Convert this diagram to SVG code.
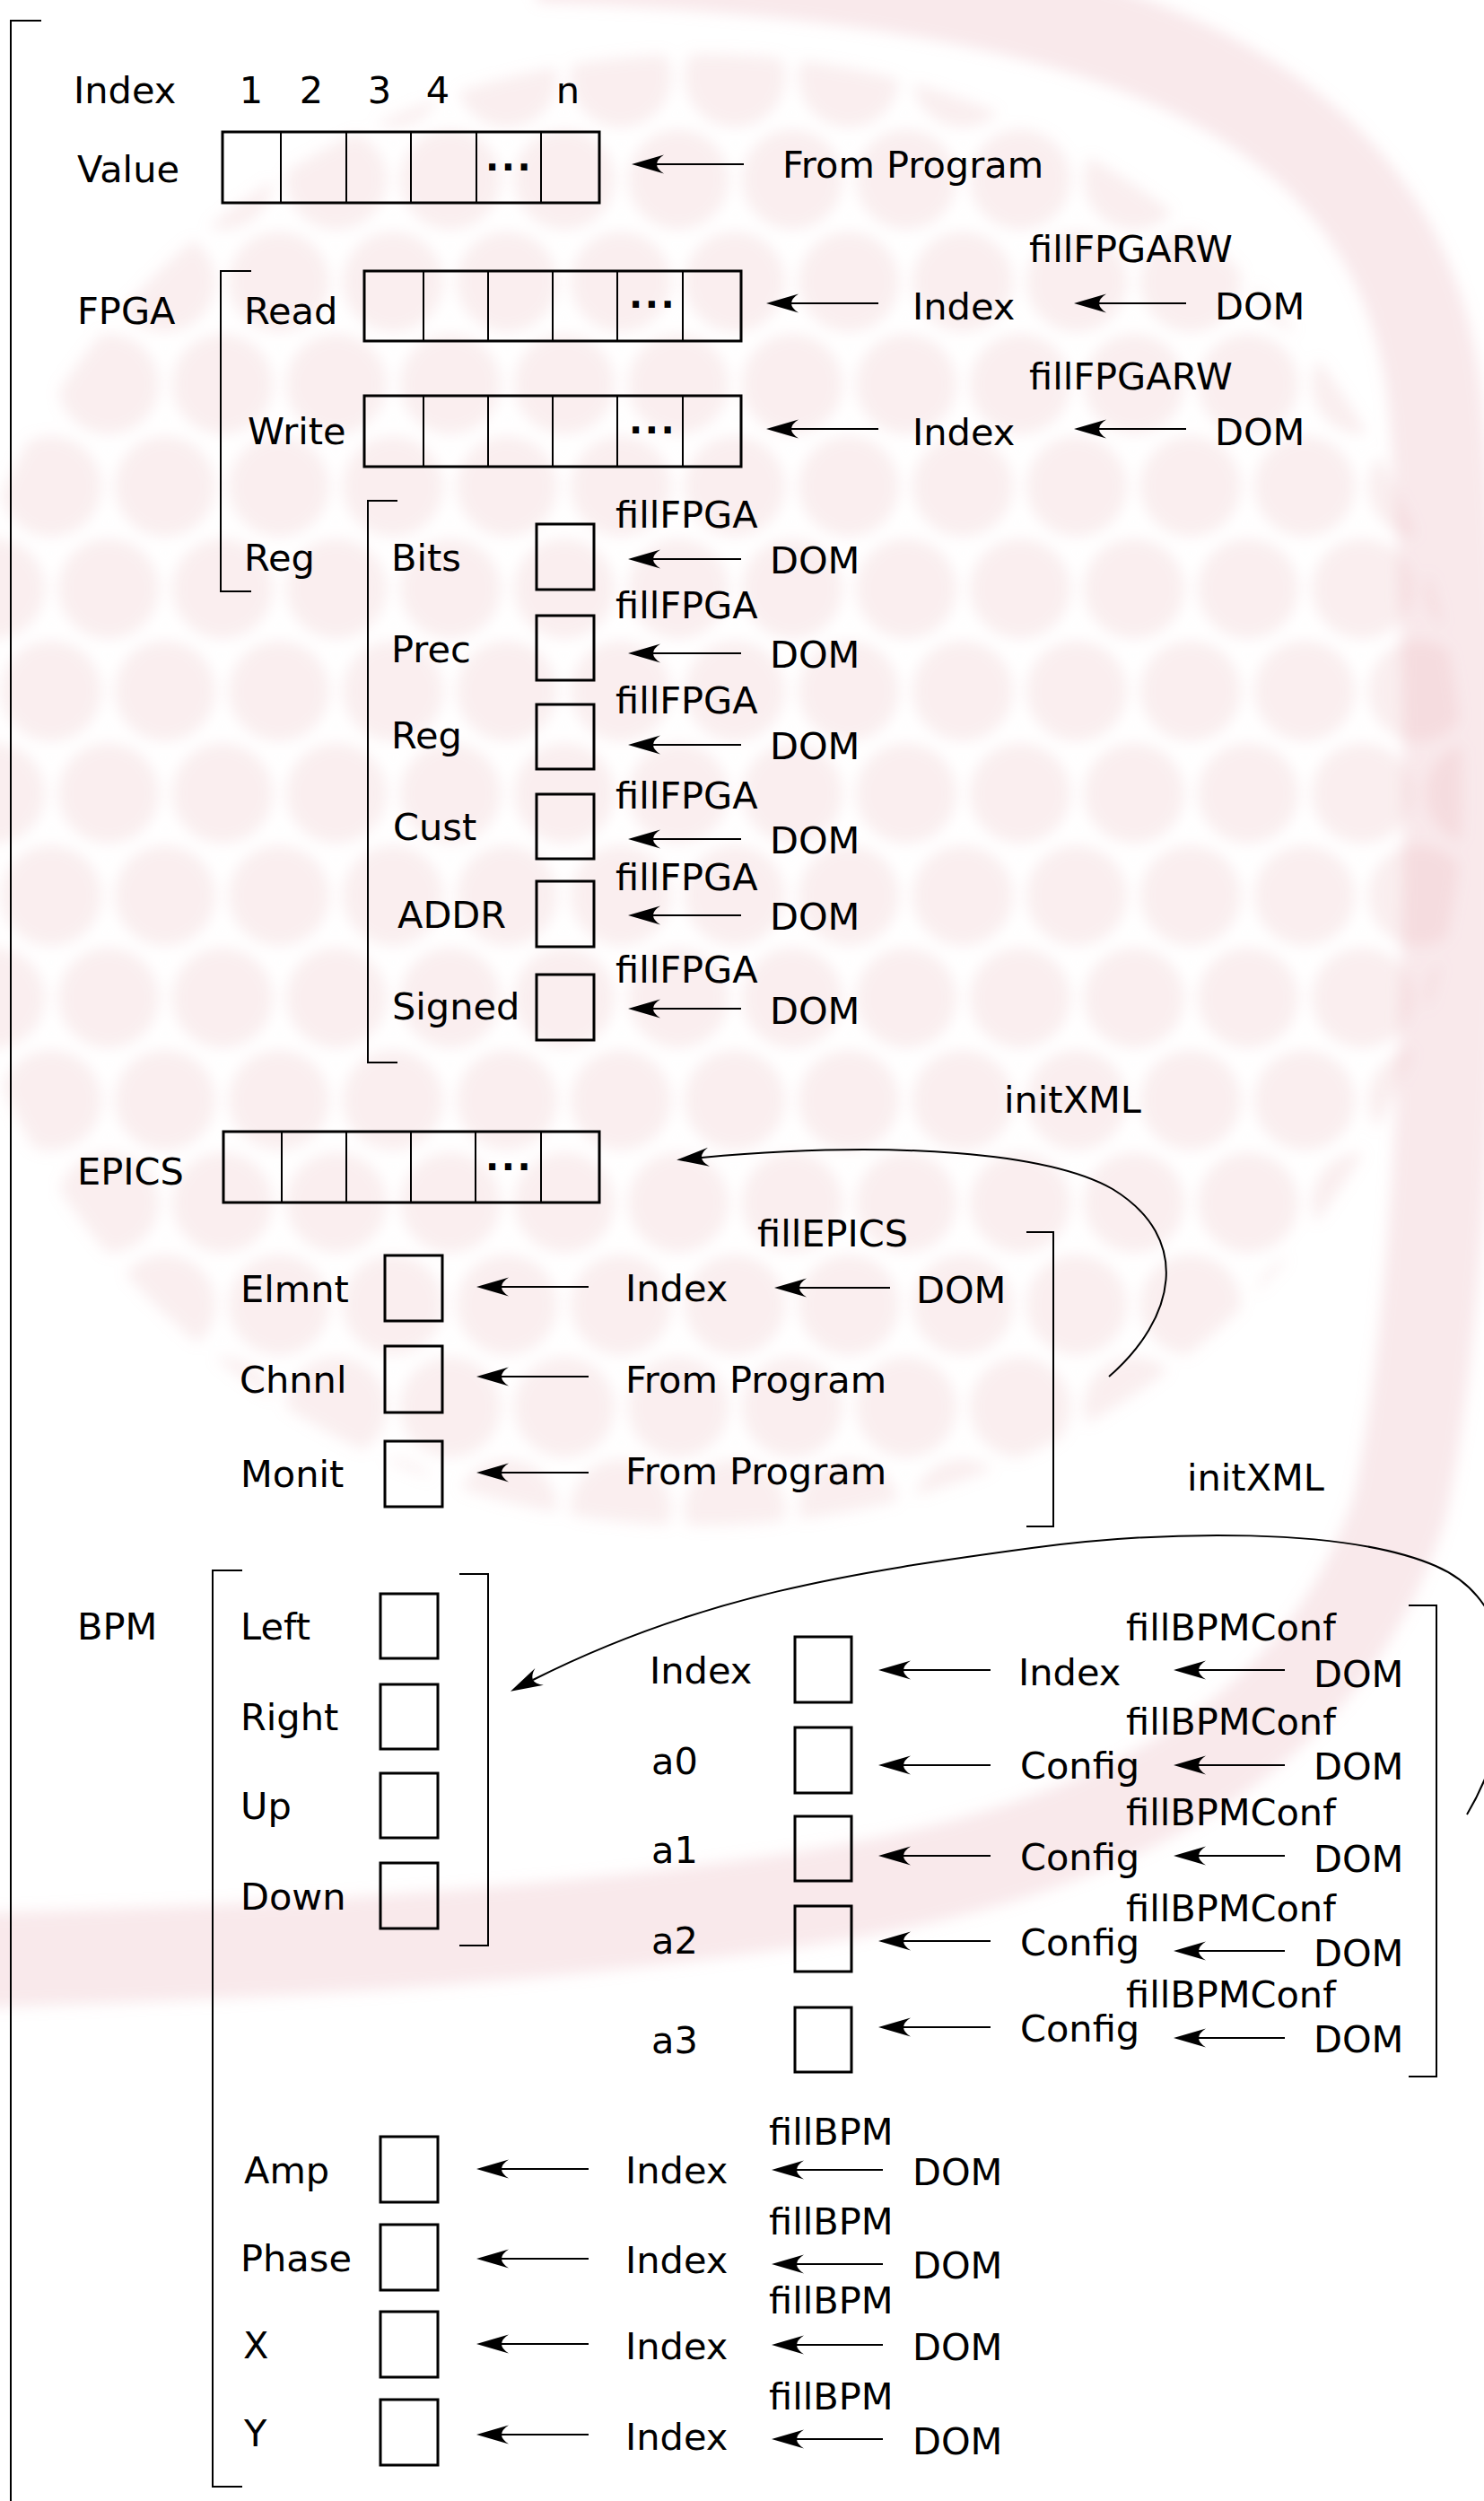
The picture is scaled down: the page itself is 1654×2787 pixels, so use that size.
<svg xmlns="http://www.w3.org/2000/svg" width="1654" height="2787" viewBox="0 0 1654 2787">
<style>
text{font-family:"DejaVu Sans","Liberation Sans",sans-serif;font-size:41.5px;fill:#000}
text.dots{font-weight:bold;font-size:40px;letter-spacing:2.5px}
.box{fill:none;stroke:#000;stroke-width:3}
.dv{stroke:#000;stroke-width:2}
.br{fill:none;stroke:#000;stroke-width:2}
.ar{stroke:#000;stroke-width:2;fill:none;marker-end:url(#ah)}
.cv{stroke:#000;stroke-width:2;fill:none;marker-end:url(#ah)}
</style>
<defs>
<marker id="ah" markerUnits="userSpaceOnUse" orient="auto" refX="0" refY="0" markerWidth="40" markerHeight="24" overflow="visible">
<path d="M28,0 L-8,-10.5 Q8,0 -8,10.5 Z" fill="#000"/>
</marker>
<pattern id="circ" patternUnits="userSpaceOnUse" x="0" y="0" width="127" height="228">
<g fill="#e8a9b1">
<circle cx="57" cy="86" r="56"/><circle cx="121" cy="200" r="56"/><circle cx="-6" cy="200" r="56"/><circle cx="121" cy="-28" r="56"/><circle cx="-6" cy="-28" r="56"/>
</g>
</pattern>
<filter id="soft" x="-10%" y="-10%" width="120%" height="120%"><feGaussianBlur stdDeviation="8"/></filter>
</defs>
<rect width="1654" height="2787" fill="#fff"/>
<g id="watermark" filter="url(#soft)">
<ellipse cx="780" cy="880" rx="850" ry="820" fill="url(#circ)" opacity="0.2"/>
<path d="M600,-50 C1150,-30 1560,60 1600,450 C1630,800 1620,1400 1560,1680 C1470,1960 1200,2070 900,2115 C600,2160 300,2175 -40,2185" fill="none" stroke="#e8a9b1" stroke-width="105" opacity="0.25"/>
</g>

<g id="outer-bracket"><path class="br" d="M46,23 H12 V2800"/></g>

<g id="index-row">
<text x="82" y="115">Index</text>
<text x="280" y="115" text-anchor="middle">1</text>
<text x="347" y="115" text-anchor="middle">2</text>
<text x="423" y="115" text-anchor="middle">3</text>
<text x="488" y="115" text-anchor="middle">4</text>
<text x="633" y="115" text-anchor="middle">n</text>
</g>
<g id="value-array">
<text x="86" y="203">Value</text>
<rect class="box" x="248" y="147" width="420" height="79"/>
<path class="dv" d="M313,147V226M386,147V226M458,147V226M531,147V226M603,147V226"/>
<text class="dots" x="541" y="190">...</text>
</g>
<g id="value-source"><text x="872" y="198">From Program</text></g>

<g id="fpga">
<text x="86" y="361">FPGA</text>
<path class="br" d="M280,302 H246 V659 H280"/>
</g>
<g id="fpga-read">
<text x="272" y="361">Read</text>
<rect class="box" x="406" y="302" width="420" height="78"/>
<path class="dv" d="M472,302V380M544,302V380M616,302V380M688,302V380M761,302V380"/>
<text class="dots" x="701" y="343">...</text>
</g>
<g id="fpga-read-src">
<text x="1147" y="292">fillFPGARW</text>
<text x="1017" y="356">Index</text>
<text x="1354" y="356">DOM</text>
</g>
<g id="fpga-write">
<text x="276" y="495">Write</text>
<rect class="box" x="406" y="441" width="420" height="79"/>
<path class="dv" d="M472,441V520M544,441V520M616,441V520M688,441V520M761,441V520"/>
<text class="dots" x="701" y="483">...</text>
</g>
<g id="fpga-write-src">
<text x="1147" y="434">fillFPGARW</text>
<text x="1017" y="496">Index</text>
<text x="1354" y="496">DOM</text>
</g>
<g id="fpga-reg">
<text x="272" y="636">Reg</text>
<path class="br" d="M443,558 H410 V1184 H443"/>
</g>
<g id="reg-bits"><text x="436" y="636">Bits</text><rect class="box" x="598" y="584" width="64" height="73"/><text x="686" y="588">fillFPGA</text><text x="858" y="639">DOM</text></g>
<g id="reg-prec"><text x="436" y="738">Prec</text><rect class="box" x="598" y="686" width="64" height="72"/><text x="686" y="689">fillFPGA</text><text x="858" y="744">DOM</text></g>
<g id="reg-reg"><text x="436" y="834">Reg</text><rect class="box" x="598" y="785" width="64" height="72"/><text x="686" y="795">fillFPGA</text><text x="858" y="846">DOM</text></g>
<g id="reg-cust"><text x="438" y="936">Cust</text><rect class="box" x="598" y="885" width="64" height="72"/><text x="686" y="901">fillFPGA</text><text x="858" y="951">DOM</text></g>
<g id="reg-addr"><text x="443" y="1034">ADDR</text><rect class="box" x="598" y="982" width="64" height="73"/><text x="686" y="992">fillFPGA</text><text x="858" y="1036">DOM</text></g>
<g id="reg-signed"><text x="437" y="1136">Signed</text><rect class="box" x="598" y="1086" width="64" height="73"/><text x="686" y="1095">fillFPGA</text><text x="858" y="1141">DOM</text></g>

<g id="epics">
<text x="86" y="1320">EPICS</text>
<rect class="box" x="249" y="1261" width="419" height="79"/>
<path class="dv" d="M314,1261V1340M386,1261V1340M458,1261V1340M530,1261V1340M603,1261V1340"/>
<text class="dots" x="541" y="1304">...</text>
</g>
<g id="epics-init"><text x="1119" y="1240">initXML</text></g>
<g id="epics-fields">
<text x="844" y="1389">fillEPICS</text>
<path class="br" d="M1144,1373 H1174 V1701 H1144"/>
</g>
<g id="epics-elmnt"><text x="268" y="1451">Elmnt</text><rect class="box" x="429" y="1399" width="64" height="73"/><text x="697" y="1450">Index</text><text x="1021" y="1452">DOM</text></g>
<g id="epics-chnnl"><text x="267" y="1552">Chnnl</text><rect class="box" x="429" y="1500" width="64" height="74"/><text x="697" y="1552">From Program</text></g>
<g id="epics-monit"><text x="268" y="1657">Monit</text><rect class="box" x="429" y="1606" width="64" height="73"/><text x="697" y="1654">From Program</text></g>
<g id="bpm-init"><text x="1323" y="1661">initXML</text></g>

<g id="bpm">
<text x="86" y="1827">BPM</text>
<path class="br" d="M270,1750 H237 V2771 H270"/>
</g>
<g id="bpm-buttons">
<path class="br" d="M512,1754 H544 V2168 H512"/>
<text x="268" y="1827">Left</text><rect class="box" x="424" y="1776" width="64" height="72"/>
<text x="268" y="1928">Right</text><rect class="box" x="424" y="1877" width="64" height="72"/>
<text x="268" y="2027">Up</text><rect class="box" x="424" y="1976" width="64" height="72"/>
<text x="268" y="2128">Down</text><rect class="box" x="424" y="2076" width="64" height="73"/>
</g>
<g id="bpm-conf">
<path class="br" d="M1570,1789 H1601 V2314 H1570"/>
</g>
<g id="conf-index"><text x="724" y="1876">Index</text><rect class="box" x="886" y="1824" width="63" height="73"/><text x="1255" y="1828">fillBPMConf</text><text x="1135" y="1878">Index</text><text x="1464" y="1880">DOM</text></g>
<g id="conf-a0"><text x="726" y="1977">a0</text><rect class="box" x="886" y="1925" width="63" height="73"/><text x="1255" y="1933">fillBPMConf</text><text x="1137" y="1982">Config</text><text x="1464" y="1983">DOM</text></g>
<g id="conf-a1"><text x="726" y="2076">a1</text><rect class="box" x="886" y="2024" width="63" height="72"/><text x="1255" y="2034">fillBPMConf</text><text x="1137" y="2084">Config</text><text x="1464" y="2086">DOM</text></g>
<g id="conf-a2"><text x="726" y="2177">a2</text><rect class="box" x="886" y="2124" width="63" height="73"/><text x="1255" y="2141">fillBPMConf</text><text x="1137" y="2179">Config</text><text x="1464" y="2191">DOM</text></g>
<g id="conf-a3"><text x="726" y="2288">a3</text><rect class="box" x="886" y="2237" width="63" height="72"/><text x="1255" y="2237">fillBPMConf</text><text x="1137" y="2275">Config</text><text x="1464" y="2287">DOM</text></g>

<g id="bpm-amp"><text x="272" y="2433">Amp</text><rect class="box" x="424" y="2381" width="64" height="73"/><text x="697" y="2433">Index</text><text x="857" y="2390">fillBPM</text><text x="1017" y="2435">DOM</text></g>
<g id="bpm-phase"><text x="268" y="2531">Phase</text><rect class="box" x="424" y="2479" width="64" height="73"/><text x="697" y="2533">Index</text><text x="857" y="2490">fillBPM</text><text x="1017" y="2539">DOM</text></g>
<g id="bpm-x"><text x="271" y="2628">X</text><rect class="box" x="424" y="2576" width="64" height="73"/><text x="697" y="2629">Index</text><text x="857" y="2578">fillBPM</text><text x="1017" y="2630">DOM</text></g>
<g id="bpm-y"><text x="272" y="2726">Y</text><rect class="box" x="424" y="2674" width="64" height="73"/><text x="697" y="2730">Index</text><text x="857" y="2685">fillBPM</text><text x="1017" y="2735">DOM</text></g>

<g id="connectors">
<line class="ar" x1="829" y1="183" x2="732" y2="183"/>
<line class="ar" x1="979" y1="338" x2="882" y2="338"/>
<line class="ar" x1="1322" y1="338" x2="1225" y2="338"/>
<line class="ar" x1="979" y1="478" x2="882" y2="478"/>
<line class="ar" x1="1322" y1="478" x2="1225" y2="478"/>
<line class="ar" x1="826" y1="623" x2="728" y2="623"/>
<line class="ar" x1="826" y1="728" x2="728" y2="728"/>
<line class="ar" x1="826" y1="830" x2="728" y2="830"/>
<line class="ar" x1="826" y1="935" x2="728" y2="935"/>
<line class="ar" x1="826" y1="1020" x2="728" y2="1020"/>
<line class="ar" x1="826" y1="1124" x2="728" y2="1124"/>
<line class="ar" x1="656" y1="1434" x2="559" y2="1434"/>
<line class="ar" x1="992" y1="1435" x2="891" y2="1435"/>
<line class="ar" x1="656" y1="1534" x2="559" y2="1534"/>
<line class="ar" x1="656" y1="1641" x2="559" y2="1641"/>
<line class="ar" x1="1104" y1="1861" x2="1007" y2="1861"/>
<line class="ar" x1="1432" y1="1861" x2="1336" y2="1861"/>
<line class="ar" x1="1104" y1="1967" x2="1007" y2="1967"/>
<line class="ar" x1="1432" y1="1967" x2="1336" y2="1967"/>
<line class="ar" x1="1104" y1="2068" x2="1007" y2="2068"/>
<line class="ar" x1="1432" y1="2068" x2="1336" y2="2068"/>
<line class="ar" x1="1104" y1="2163" x2="1007" y2="2163"/>
<line class="ar" x1="1432" y1="2174" x2="1336" y2="2174"/>
<line class="ar" x1="1104" y1="2259" x2="1007" y2="2259"/>
<line class="ar" x1="1432" y1="2271" x2="1336" y2="2271"/>
<line class="ar" x1="656" y1="2417" x2="559" y2="2417"/>
<line class="ar" x1="984" y1="2418" x2="888" y2="2418"/>
<line class="ar" x1="656" y1="2517" x2="559" y2="2517"/>
<line class="ar" x1="984" y1="2523" x2="888" y2="2523"/>
<line class="ar" x1="656" y1="2612" x2="559" y2="2612"/>
<line class="ar" x1="984" y1="2613" x2="888" y2="2613"/>
<line class="ar" x1="656" y1="2713" x2="559" y2="2713"/>
<line class="ar" x1="984" y1="2718" x2="888" y2="2718"/>
<path class="cv" d="M1236,1534 C1310,1470 1330,1380 1240,1325 C1170,1285 1000,1270 782,1290"/>
<path class="cv" d="M1635,2022 C1690,1930 1705,1790 1600,1745 C1500,1702 1300,1705 1150,1725 C950,1752 780,1778 594,1872"/>
</g>
</svg>
